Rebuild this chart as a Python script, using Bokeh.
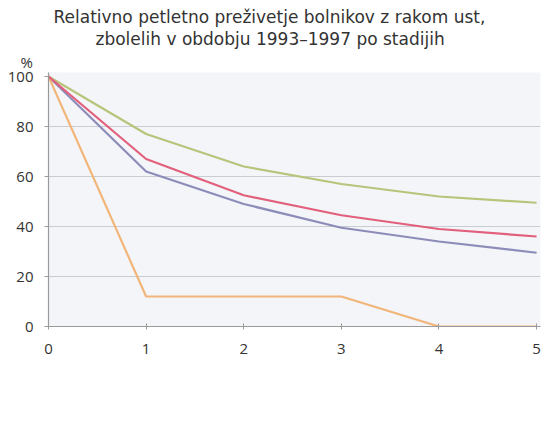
from bokeh.plotting import figure
from bokeh.models import Legend, LegendItem, FixedTicker, Range1d, Title
from bokeh.embed import file_html
from bokeh.resources import INLINE

# data
years = [0, 1, 2, 3, 4, 5]
omejen = [100, 77, 64, 57, 52, 49.5]
razsirjen = [100, 62, 49, 39.5, 34, 29.5]
razsejan = [100, 12, 12, 12, 0, 0]
vsi = [100, 67, 52.5, 44.5, 39, 36]
series_names = ["omejen", "razširjen", "razsejan", "vsi"]
y_ticks = [0, 20, 40, 60, 80, 100]
x_ticks = [0, 1, 2, 3, 4, 5]
title_lines = ["Relativno petletno preživetje bolnikov z rakom ust,",
               "zbolelih v obdobju 1993–1997 po stadijih"]
unit_label = "%"

FONT = "Open Sans"
TFONT = "DejaVu Sans"
TXT = "#333333"

p = figure(frame_width=492, frame_height=254, output_backend="svg", toolbar_location=None,
           x_range=Range1d(0, 5.04), y_range=Range1d(0, 101.6),
           min_border_left=48, min_border_right=11, min_border_top=72, min_border_bottom=99)
p.background_fill_color = "#f3f5f9"
p.border_fill_color = "white"
p.outline_line_color = None

p.xgrid.visible = False
p.ygrid.ticker = FixedTicker(ticks=[20, 40, 60, 80])
p.ygrid.grid_line_color = "#c9ccd1"
p.ygrid.grid_line_width = 1.2

for ax in (p.xaxis[0], p.yaxis[0]):
    ax.axis_line_color = "#9a9a9a"
    ax.axis_line_width = 1.2
    ax.major_tick_line_color = "#9a9a9a"
    ax.minor_tick_line_color = None
    ax.major_label_text_font = FONT
    ax.major_label_text_font_size = "15px"
    ax.major_label_text_color = TXT
p.xaxis.ticker = FixedTicker(ticks=x_ticks)
p.yaxis.ticker = FixedTicker(ticks=y_ticks)
p.xaxis.major_tick_in = 3
p.xaxis.major_tick_out = 3
p.xaxis.major_label_standoff = 14
p.yaxis.major_tick_in = 0
p.yaxis.major_tick_out = 4
p.yaxis.major_label_standoff = 11

colors = ["#b7c47a", "#8d8cb9", "#f2b57a", "#e2607c"]
data = [omejen, razsirjen, razsejan, vsi]
renderers = []
for ys, c in zip(data, colors):
    r = p.line(years, ys, line_color=c, line_width=2.2)
    renderers.append(r)

# titles (added from frame outwards)
p.add_layout(Title(text=unit_label, align="left", offset=-28, standoff=2,
                   text_font=FONT, text_font_size="15px", text_color=TXT,
                   text_line_height=1.0, text_font_style="normal"), "above")
p.add_layout(Title(text=title_lines[1], align="left", offset=47, standoff=0,
                   text_font=TFONT, text_font_size="17px", text_color=TXT,
                   text_line_height=1.0, text_font_style="normal"), "above")
p.add_layout(Title(text=title_lines[0], align="left", offset=5, standoff=0,
                   text_font=TFONT, text_font_size="17px", text_color=TXT,
                   text_line_height=1.0, text_font_style="normal"), "above")

# legend
leg = Legend(items=[LegendItem(label=n, renderers=[r]) for n, r in zip(series_names, renderers)],
             location="top_center", orientation="horizontal", glyph_width=43, glyph_height=18,
             label_height=18, label_standoff=14, spacing=17,
             padding=0, margin=38, border_line_color=None, background_fill_alpha=0,
             label_text_font=FONT, label_text_font_size="16px",
             label_text_color=TXT, label_text_baseline="middle")
p.add_layout(leg, "below")

open("out.html", "w").write(file_html(p, INLINE))
